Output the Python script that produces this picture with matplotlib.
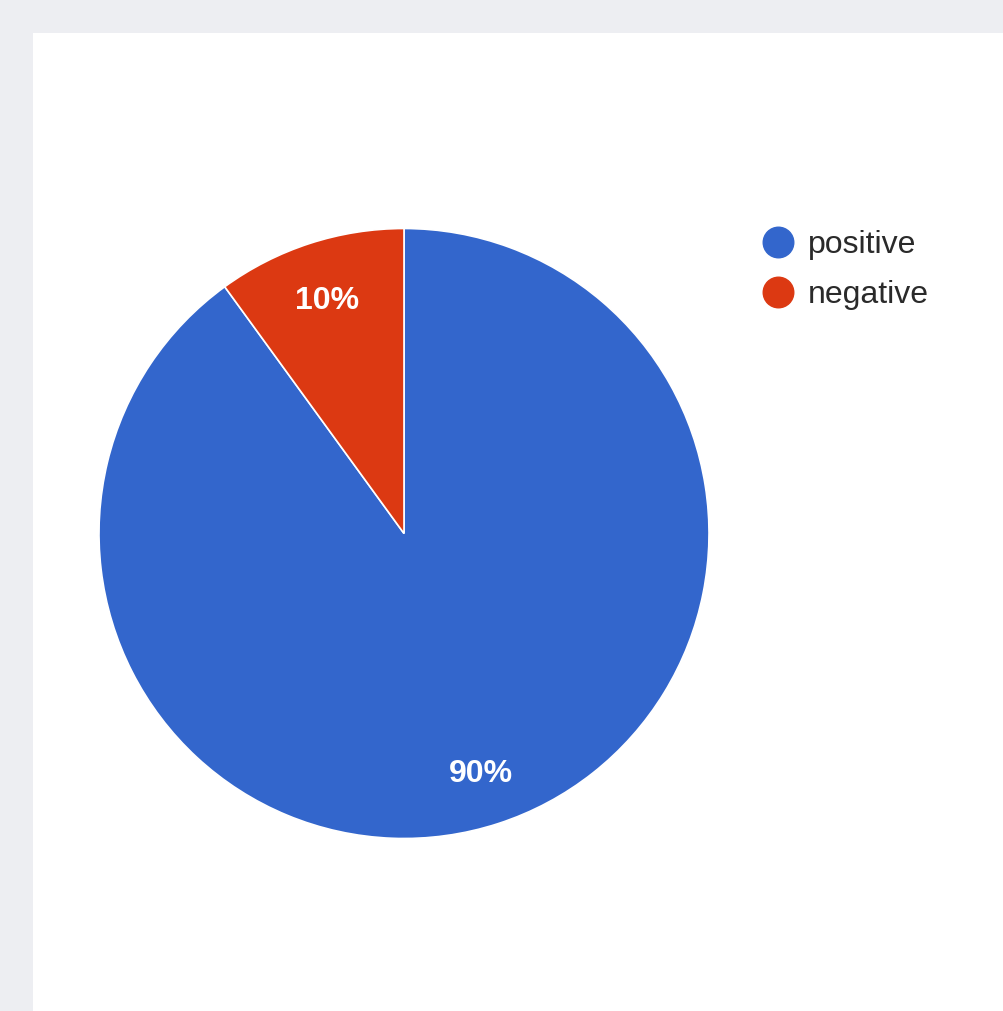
import matplotlib.pyplot as plt
from matplotlib.lines import Line2D
from matplotlib.transforms import offset_copy

labels = ['positive', 'negative']
values = [90, 10]
colors = ['#3366cc', '#dc3912']

W, H = 1004, 1011
fig = plt.figure(figsize=(W / 100, H / 100), dpi=100)
fig.patch.set_facecolor('#edeef2')
plt.rcParams['font.family'] = ['Liberation Sans', 'DejaVu Sans']

# white card behind the chart
card = fig.add_axes([33 / W, 0, 1 - 33 / W, 1 - 33 / H], zorder=0)
card.set_facecolor('white')
card.set_xticks([])
card.set_yticks([])
for s in card.spines.values():
    s.set_visible(False)

cx, cy, r = 404, 533.5, 305
ax = fig.add_axes([(cx - r) / W, 1 - (cy + r) / H, 2 * r / W, 2 * r / H], zorder=1)
wedges, _, autotexts = ax.pie(values, colors=colors, startangle=90, counterclock=False,
                              autopct='%d%%', pctdistance=0.815,
                              wedgeprops=dict(edgecolor='white', linewidth=1.2),
                              textprops=dict(color='white', fontsize=23, fontweight='bold'))
# nudge the percentage labels down a little
for t in autotexts:
    t.set_transform(offset_copy(ax.transData, fig=fig, x=0, y=-4, units='dots'))
ax.set_xlim(-1, 1)
ax.set_ylim(-1, 1)
ax.set_aspect('auto')
ax.axis('off')

handles = [Line2D([], [], marker='o', linestyle='none', markersize=22,
                  markerfacecolor=c, markeredgecolor=c) for c in colors]
leg = fig.legend(handles, labels, loc='upper left', bbox_to_anchor=(762 / W, 1 - 230 / H),
                 frameon=False, fontsize=23, labelcolor='#2a2a2a', borderpad=0,
                 borderaxespad=0, handlelength=1.0, handletextpad=0.45, labelspacing=0.62)
leg.set_zorder(2)

fig.savefig('out.png', dpi=100, facecolor=fig.get_facecolor())
